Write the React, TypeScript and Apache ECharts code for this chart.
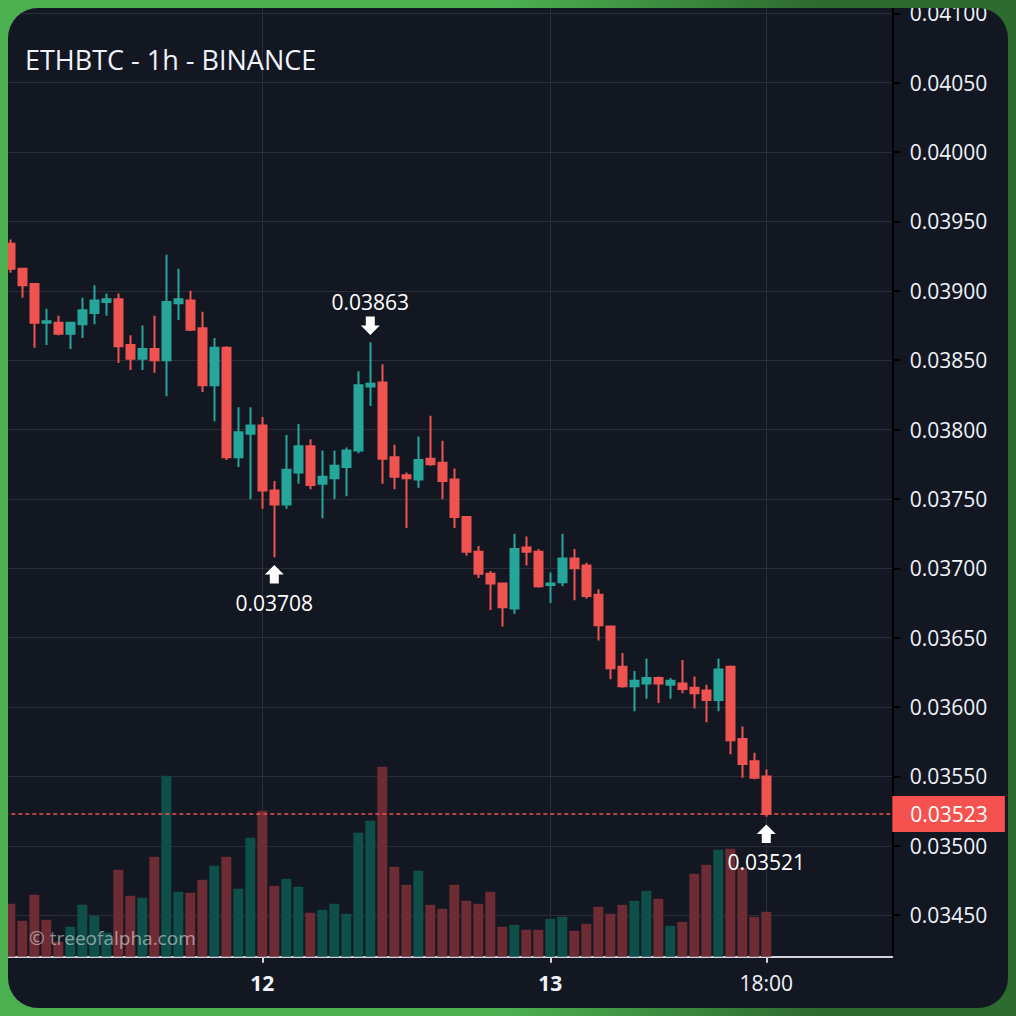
import { useEffect, useRef } from "react";
import * as echarts from "echarts";

// ---- data ----
const chartTitle = "ETHBTC - 1h - BINANCE";
const watermark = "© treeofalpha.com";
const firstDay = 11;
const firstHour = 3;
const slotCount = 74;
const markedSlots = [21, 45, 63];

const opens = [
  0.03934, 0.03916, 0.03905, 0.03877, 0.03877, 0.03869, 0.03876, 0.03884, 0.03892, 0.03894,
  0.03861, 0.03851, 0.03858, 0.0385, 0.03891, 0.03893, 0.03873, 0.03832, 0.03859, 0.0378,
  0.03797, 0.03803, 0.03756, 0.03746, 0.03769, 0.03788, 0.03761, 0.03765, 0.03773, 0.03785,
  0.03831, 0.03834, 0.0378, 0.03767, 0.03764, 0.03779, 0.03776, 0.03764, 0.03737, 0.03712,
  0.03696, 0.03689, 0.03671, 0.03715, 0.03712, 0.03688, 0.0369, 0.03707, 0.03702, 0.03681,
  0.03658, 0.03629, 0.03615, 0.03617, 0.03621, 0.03616, 0.03617, 0.03614, 0.03612, 0.03605,
  0.03629, 0.03577, 0.03561, 0.0355,
];
const closes = [
  0.03916, 0.03904, 0.03877, 0.03878, 0.03869, 0.03877, 0.03886, 0.03893, 0.03894, 0.0386,
  0.03851, 0.03858, 0.0385, 0.03892, 0.03894, 0.03872, 0.03832, 0.03859, 0.0378, 0.03798,
  0.03803, 0.03756, 0.03746, 0.03771, 0.03788, 0.0376, 0.03766, 0.03774, 0.03785, 0.03832,
  0.03833, 0.03779, 0.03766, 0.03765, 0.03778, 0.03775, 0.03763, 0.03737, 0.03712, 0.03696,
  0.03689, 0.03672, 0.03714, 0.03712, 0.03687, 0.03689, 0.03707, 0.037, 0.0368, 0.03659,
  0.03628, 0.03615, 0.03619, 0.03621, 0.03617, 0.03619, 0.03613, 0.0361, 0.03605, 0.03627,
  0.03576, 0.03559, 0.03549, 0.03523,
];
const lows = [
  0.03913, 0.03895, 0.03859, 0.03861, 0.03868, 0.03858, 0.03866, 0.03876, 0.03882, 0.03848,
  0.03843, 0.03843, 0.03841, 0.03824, 0.03879, 0.03871, 0.03827, 0.03806, 0.03778, 0.03773,
  0.0375, 0.03743, 0.03708, 0.03743, 0.03761, 0.03757, 0.03736, 0.0375, 0.03752, 0.03783,
  0.03817, 0.03761, 0.03757, 0.03729, 0.03758, 0.03774, 0.0375, 0.03729, 0.03709, 0.03693,
  0.0367, 0.03658, 0.03667, 0.03702, 0.03686, 0.03675, 0.03687, 0.03677, 0.03678, 0.03648,
  0.0362, 0.03614, 0.03597, 0.03606, 0.03603, 0.03606, 0.0361, 0.03599, 0.03589, 0.03597,
  0.03566, 0.03549, 0.03548, 0.03521,
];
const highs = [
  0.03937, 0.03916, 0.03905, 0.03887, 0.03882, 0.03877, 0.03895, 0.03904, 0.03898, 0.03898,
  0.03868, 0.03875, 0.03882, 0.03926, 0.03916, 0.039, 0.03885, 0.03866, 0.0386, 0.03816,
  0.03816, 0.03809, 0.03763, 0.03796, 0.03804, 0.03793, 0.03785, 0.03785, 0.03787, 0.03842,
  0.03863, 0.03847, 0.03789, 0.03769, 0.03795, 0.0381, 0.03792, 0.03772, 0.03737, 0.03716,
  0.03698, 0.03689, 0.03725, 0.03723, 0.03714, 0.03697, 0.03725, 0.03714, 0.03704, 0.03685,
  0.03658, 0.03639, 0.03626, 0.03635, 0.03622, 0.03621, 0.03634, 0.03622, 0.03616, 0.03635,
  0.0363, 0.03586, 0.03567, 0.03555,
];
const volumes = [
  530, 360, 620, 370, 150, 300, 520, 410, 240, 870,
  610, 590, 1000, 1810, 650, 640, 770, 910, 1000, 680,
  1190, 1460, 710, 780, 700, 440, 470, 530, 430, 1240,
  1360, 1900, 900, 720, 860, 520, 480, 720, 560, 530,
  650, 300, 320, 270, 270, 380, 400, 260, 330, 500,
  430, 520, 560, 660, 580, 310, 350, 830, 920, 1070,
  1080, 890, 400, 450,
];
const volumeUp = [
  0, 0, 0, 0, 0, 1, 1, 1, 1, 0,
  0, 1, 0, 1, 1, 0, 0, 1, 0, 1,
  1, 0, 0, 1, 1, 0, 1, 1, 1, 1,
  1, 0, 0, 0, 1, 0, 0, 0, 0, 0,
  0, 0, 1, 0, 0, 1, 1, 0, 0, 0,
  0, 0, 1, 1, 0, 1, 0, 0, 0, 1,
  0, 0, 0, 0,
];
const highNotes = [{ slot: 30, price: 0.03863 }];
const lowNotes = [
  { slot: 22, price: 0.03708 },
  { slot: 63, price: 0.03521 },
];
const lastPrice = 0.03523;
const priceMin = 0.0342;
const priceMax = 0.04105;
const priceStep = 0.0005;
const volumeMax = 2000;

// ---- styles ----
const UP = "#26a69a";
const DOWN = "#ef5350";
const VOL_UP = "#0e4f49";
const VOL_DOWN = "#6d2b34";
const GRID = "#2a2e39";
const TEXT = "#f0f3fa";
const FONT = "Open Sans";

const ARROW_DOWN = "path://M5,0 L14,0 L14,9 L19,9 L9.5,18.5 L0,9 L5,9 Z";
const ARROW_UP = "path://M9.5,0 L19,9.5 L14,9.5 L14,18.5 L5,18.5 L5,9.5 L0,9.5 Z";

const categories = Array.from({ length: slotCount }, (_, i) => {
  const t = firstHour + i;
  const h = t % 24;
  const d = firstDay + Math.floor(t / 24);
  return h === 0 ? String(d) : `${String(h).padStart(2, "0")}:00`;
});

export default function App() {
  const ref = useRef<HTMLDivElement>(null);

  useEffect(() => {
    if (!ref.current) return;
    const chart = echarts.init(ref.current, null, { renderer: "svg" });
    const gridLeft = 4.3;
    const gridRight = 123.7;
    const gridTop = 6.4;
    const gridBottom = 59.2;
    const isMarked = (i: number) => markedSlots.includes(i);

    chart.setOption({
      animation: false,
      backgroundColor: "transparent",
      textStyle: { fontFamily: FONT },
      title: {
        text: chartTitle,
        left: 25,
        top: 46,
        padding: 0,
        textStyle: { color: TEXT, fontSize: 27, fontWeight: "normal", fontFamily: FONT },
      },
      grid: [
        { left: gridLeft, right: gridRight, top: gridTop, bottom: gridBottom },
        { left: gridLeft, right: gridRight, bottom: gridBottom, height: 200 },
      ],
      xAxis: [
        {
          type: "category",
          gridIndex: 0,
          data: categories,
          boundaryGap: true,
          axisLine: { show: true, lineStyle: { color: "#d1d4dc", width: 2 } },
          axisTick: {
            show: true,
            alignWithLabel: true,
            interval: (i: number) => isMarked(i),
            length: 6,
            lineStyle: { color: "#d1d4dc", width: 2 },
          },
          axisLabel: {
            interval: (i: number) => isMarked(i),
            formatter: (v: string) => (v.includes(":") ? v : `{b|${v}}`),
            color: TEXT,
            fontSize: 21,
            lineHeight: 21,
            margin: 16,
            fontFamily: FONT,
            rich: { b: { fontWeight: "bold", fontSize: 21, color: TEXT, fontFamily: FONT } },
          },
          splitLine: { show: false },
        },
        { type: "category", gridIndex: 1, data: categories, show: false },
      ],
      yAxis: [
        {
          type: "value",
          gridIndex: 0,
          position: "right",
          min: priceMin,
          max: priceMax,
          splitNumber: 14,
          minInterval: priceStep,
          maxInterval: priceStep,
          axisLine: { show: true, lineStyle: { color: "#000000", width: 2 } },
          axisTick: { show: true, length: 8, lineStyle: { color: "#000000", width: 2 } },
          axisLabel: {
            showMinLabel: false,
            showMaxLabel: false,
            formatter: (v: number) => v.toFixed(5),
            color: TEXT,
            fontSize: 21,
            margin: 17.5,
            fontFamily: FONT,
          },
          splitLine: { show: true, lineStyle: { color: GRID, width: 1 } },
        },
        { type: "value", gridIndex: 1, min: 0, max: volumeMax, show: false, splitLine: { show: false } },
      ],
      graphic: [
        {
          type: "text",
          left: 29,
          top: 928,
          z: 100,
          silent: true,
          style: {
            text: watermark,
            fill: "rgba(255,255,255,0.5)",
            fontSize: 19,
            fontFamily: FONT,
          },
        },
      ],
      series: [
        {
          type: "line",
          xAxisIndex: 0,
          yAxisIndex: 0,
          data: [],
          silent: true,
          markLine: {
            z: 1,
            silent: true,
            symbol: ["none", "none"],
            label: { show: false },
            lineStyle: { color: GRID, width: 1, type: "solid" },
            data: markedSlots.map((i) => ({ xAxis: i })),
          },
        },
        {
          type: "bar",
          xAxisIndex: 1,
          yAxisIndex: 1,
          barWidth: 10,
          z: 2,
          data: volumes.map((v, i) => ({
            value: v,
            itemStyle: { color: volumeUp[i] ? VOL_UP : VOL_DOWN },
          })),
        },
        {
          type: "candlestick",
          xAxisIndex: 0,
          yAxisIndex: 0,
          z: 3,
          barWidth: 8,
          data: opens.map((o, i) => [o, closes[i], lows[i], highs[i]]),
          itemStyle: {
            color: UP,
            color0: DOWN,
            borderColor: UP,
            borderColor0: DOWN,
            borderWidth: 2,
          },
          markLine: {
            z: 6,
            silent: true,
            precision: 5,
            symbol: ["none", "none"],
            lineStyle: { color: DOWN, type: [4, 3], width: 1.5 },
            label: {
              show: true,
              position: "end",
              distance: 0,
              formatter: (p: any) => Number(p.value).toFixed(5),
              color: "#ffffff",
              fontSize: 21,
              lineHeight: 24,
              fontFamily: FONT,
              backgroundColor: "#f4514f",
              padding: [6, 17, 6, 18],
            },
            data: [{ yAxis: lastPrice }],
          },
          markPoint: {
            z: 6,
            silent: true,
            precision: 5,
            itemStyle: { color: "#ffffff" },
            label: {
              show: true,
              color: "#ffffff",
              fontSize: 21,
              lineHeight: 21,
              fontFamily: FONT,
              formatter: (p: any) => Number(p.value).toFixed(5),
            },
            data: [
              ...highNotes.map((n) => ({
                coord: [n.slot, n.price],
                value: n.price,
                symbol: ARROW_DOWN,
                symbolSize: [19, 18.5],
                symbolOffset: [0, -16.5],
                label: { position: "top", distance: 4 },
              })),
              ...lowNotes.map((n) => ({
                coord: [n.slot, n.price],
                value: n.price,
                symbol: ARROW_UP,
                symbolSize: [19, 18.5],
                symbolOffset: [0, 17],
                label: { position: "bottom", distance: 9 },
              })),
            ],
          },
        },
      ],
    });

    return () => chart.dispose();
  }, []);

  return (
    <div
      style={{
        position: "fixed",
        left: 0,
        top: 0,
        width: 1016,
        height: 1016,
        background: "linear-gradient(to right, #4caf50 0%, #4caf50 50%, #2e6b30 80%, #2e6b30 100%)",
      }}
    >
      <div
        style={{
          position: "absolute",
          left: 8,
          top: 8,
          width: 1000,
          height: 1000,
          borderRadius: 30,
          overflow: "hidden",
          background: "#131722",
        }}
      >
        <div ref={ref} style={{ position: "absolute", left: -8, top: -8, width: 1016, height: 1016 }} />
      </div>
    </div>
  );
}
